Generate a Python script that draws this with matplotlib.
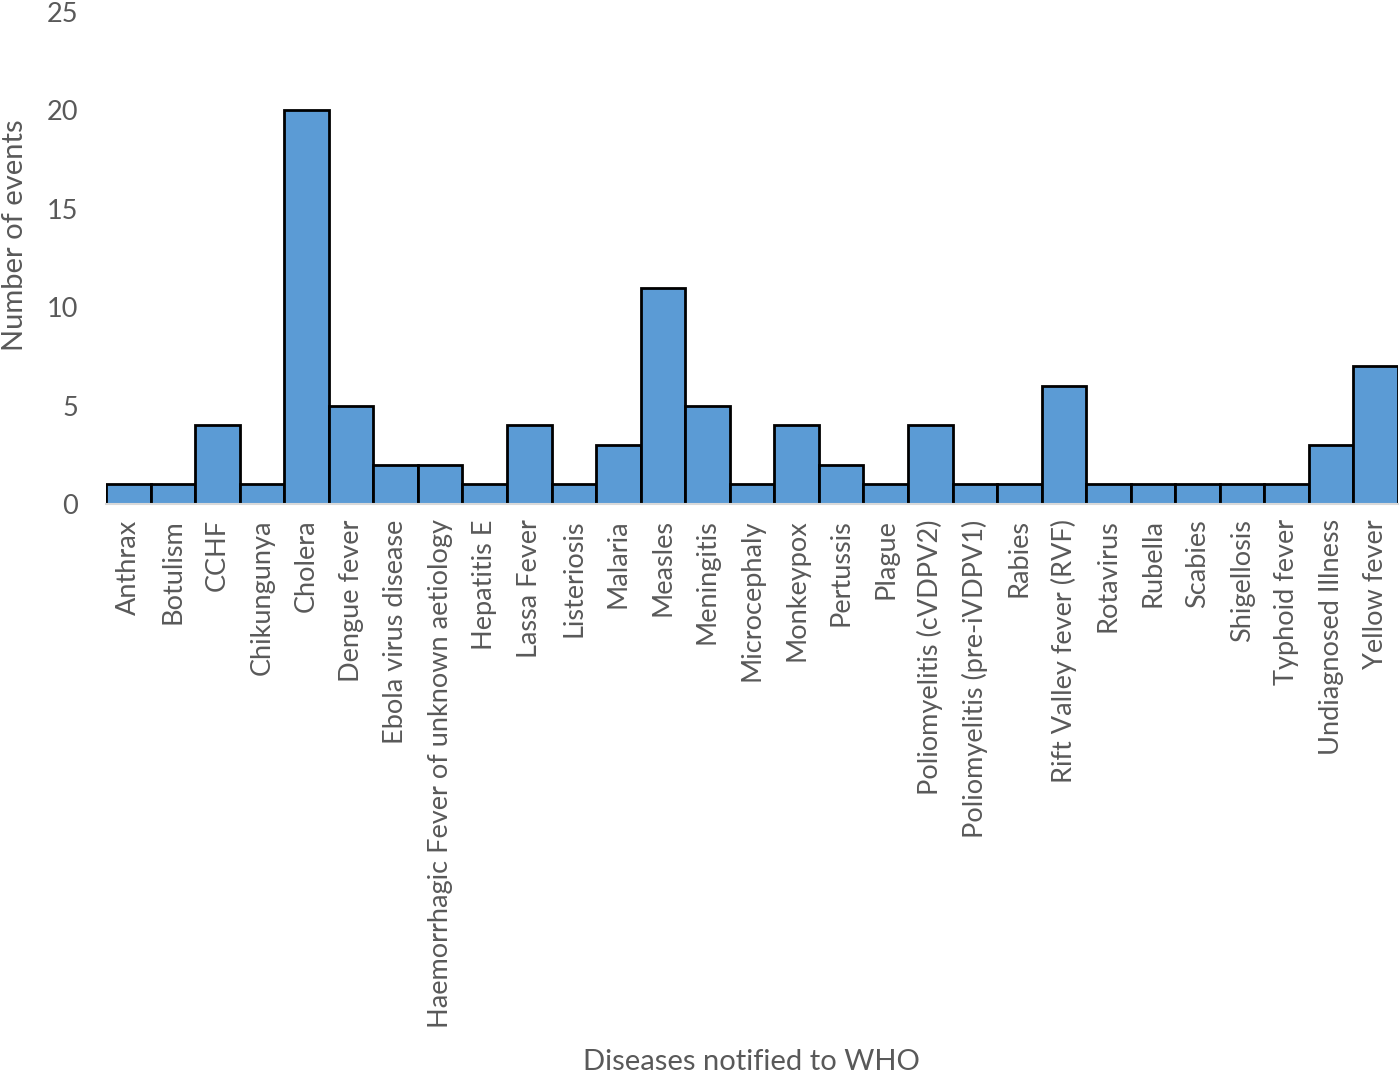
import matplotlib
matplotlib.use("Agg")
import matplotlib.pyplot as plt
import numpy as np

diseases = [
    "Anthrax", "Botulism", "CCHF", "Chikungunya", "Cholera", "Dengue fever",
    "Ebola virus disease", "Haemorrhagic Fever of unknown aetiology",
    "Hepatitis E", "Lassa Fever", "Listeriosis", "Malaria", "Measles",
    "Meningitis", "Microcephaly", "Monkeypox", "Pertussis", "Plague",
    "Poliomyelitis (cVDPV2)", "Poliomyelitis (pre-iVDPV1)", "Rabies",
    "Rift Valley fever (RVF)", "Rotavirus", "Rubella", "Scabies",
    "Shigellosis", "Typhoid fever", "Undiagnosed Illness", "Yellow fever",
]
events = [1, 1, 4, 1, 20, 5, 2, 2, 1, 4, 1, 3, 11, 5, 1, 4, 2, 1, 4, 1, 1,
          6, 1, 1, 1, 1, 1, 3, 7]
y_ticks = [0, 5, 10, 15, 20, 25]

plt.rcParams["font.family"] = ["Lato", "DejaVu Sans"]
text_grey = "#595959"

fig = plt.figure(figsize=(14, 10.76), dpi=100)
ax = fig.add_axes([0.0757, 0.5316, 0.9229, 0.4572])

x = np.arange(len(diseases))
ax.bar(x, events, width=1.0, color="#5b9bd5", edgecolor="black", linewidth=2)

ax.set_xlim(-0.5, len(diseases) - 0.5)
ax.set_ylim(0, 25)
ax.set_yticks(y_ticks)
ax.set_xticks(x)
ax.set_xticklabels(diseases, rotation=90, fontsize=19.5, color=text_grey)
ax.tick_params(axis="y", labelsize=19.5, labelcolor=text_grey, length=0, pad=20)
ax.tick_params(axis="x", length=0, pad=11)

for side in ["top", "right", "left"]:
    ax.spines[side].set_visible(False)
ax.spines["bottom"].set_color("#d9d9d9")
ax.spines["bottom"].set_linewidth(1.5)

fig.text(0.011, 0.781, "Number of events", fontsize=21, color=text_grey,
         rotation=90, ha="center", va="center")
fig.text(0.537, 0.013, "Diseases notified to WHO", fontsize=21,
         color=text_grey, ha="center", va="center")

fig.savefig("out.png", dpi=100)
plt.close(fig)
